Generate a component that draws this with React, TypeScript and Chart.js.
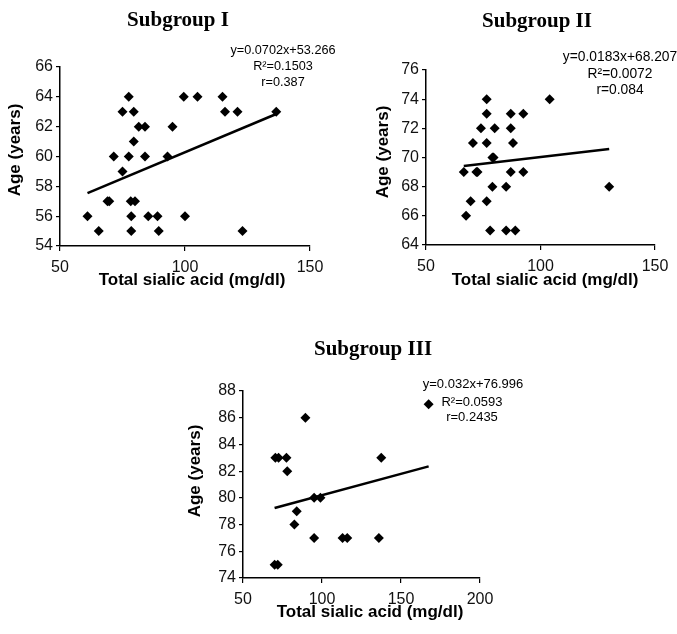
import React, { useEffect, useRef } from 'react';
import { Chart, registerables } from 'chart.js';

Chart.register(...registerables);

// ---------- data ----------
const sialicI = [61, 65.5, 69, 69.7, 71.5, 75, 75, 77.5, 77.5, 78.3, 78.5, 78.5, 79.5, 79.5, 80, 81.5, 84, 84, 85.3, 89, 89.5, 93, 95, 99.5, 100, 105, 115, 116, 121, 123, 136.5];
const ageI = [56, 55, 57, 57, 60, 63, 59, 64, 60, 57, 56, 55, 63, 61, 57, 62, 62, 60, 56, 56, 55, 60, 62, 64, 56, 64, 64, 63, 63, 55, 63];

const sialicII = [66.5, 67.5, 69.5, 70.5, 72, 72.5, 74, 76.5, 76.5, 76.5, 76.5, 78, 79, 79, 79.5, 80, 85, 85, 87, 87, 87, 88, 89, 92.5, 92.5, 104, 130];
const ageII = [69, 66, 67, 71, 69, 69, 72, 74, 73, 71, 67, 65, 68, 70, 70, 72, 68, 65, 73, 72, 69, 71, 65, 73, 69, 74, 68];

const sialicIII = [70, 72, 70.5, 72.5, 77.5, 78, 82.5, 84, 89.5, 95, 95, 99, 113, 116, 136, 137.5, 167.5];
const ageIII = [75, 75, 83, 83, 83, 82, 78, 79, 86, 80, 77, 80, 77, 77, 77, 83, 87];

const slopes = [0.0702, 0.0183, 0.032];
const intercepts = [53.266, 68.207, 76.996];

const titles = ['Subgroup I', 'Subgroup II', 'Subgroup III'];
const equationsI = ['y=0.0702x+53.266', 'R²=0.1503', 'r=0.387'];
const equationsII = ['y=0.0183x+68.207', 'R²=0.0072', 'r=0.084'];
const equationsIII = ['y=0.032x+76.996', 'R²=0.0593', 'r=0.2435'];

const xTicksI = [50, 100, 150];
const yTicksI = [54, 56, 58, 60, 62, 64, 66];
const xTicksII = [50, 100, 150];
const yTicksII = [64, 66, 68, 70, 72, 74, 76];
const xTicksIII = [50, 100, 150, 200];
const yTicksIII = [74, 76, 78, 80, 82, 84, 86, 88];

const xAxisTitle = 'Total sialic acid (mg/dl)';
const yAxisTitle = 'Age (years)';

// ---------- layout (page pixels) ----------
type Layout = {
  box: { left: number; top: number; w: number; h: number };
  area: { L: number; R: number; T: number; B: number };
  title: { x: number; y: number };
  eq: { xs: number[]; ys: number[]; size: number };
  xTitle: { x: number; y: number };
  yTitle: { x: number; y: number };
};

const layouts: Layout[] = [
  {
    box: { left: 0, top: 0, w: 340, h: 300 },
    area: { L: 60, R: 310, T: 67, B: 246 },
    title: { x: 178, y: 26 },
    eq: { xs: [283, 283, 283], ys: [50, 66, 82], size: 12.7 },
    xTitle: { x: 192, y: 285 },
    yTitle: { x: 15, y: 150 },
  },
  {
    box: { left: 340, top: 0, w: 337, h: 300 },
    area: { L: 426, R: 655, T: 70, B: 245 },
    title: { x: 537, y: 27 },
    eq: { xs: [620, 620, 620], ys: [57, 74, 90], size: 13.8 },
    xTitle: { x: 545, y: 285 },
    yTitle: { x: 383, y: 152 },
  },
  {
    box: { left: 170, top: 310, w: 380, h: 324 },
    area: { L: 243, R: 480, T: 391, B: 578 },
    title: { x: 373, y: 355 },
    eq: { xs: [473, 472, 472], ys: [384, 402, 417], size: 13 },
    xTitle: { x: 370, y: 617 },
    yTitle: { x: 195, y: 471 },
  },
];

const SANS = '"Liberation Sans", Arial, sans-serif';
const SERIF = '"Liberation Serif", "Times New Roman", serif';

type PanelProps = {
  xs: number[];
  ys: number[];
  slope: number;
  intercept: number;
  title: string;
  eqLines: string[];
  xTicks: number[];
  yTicks: number[];
  layout: Layout;
};

function Panel({ xs, ys, slope, intercept, title, eqLines, xTicks, yTicks, layout }: PanelProps) {
  const ref = useRef<HTMLCanvasElement | null>(null);

  useEffect(() => {
    if (!ref.current) return;
    const { box, area } = layout;
    const points = xs.map((x, i) => ({ x, y: ys[i] }));
    const xMin = Math.min(...xs);
    const xMax = Math.max(...xs);
    const trend = [
      { x: xMin, y: slope * xMin + intercept },
      { x: xMax, y: slope * xMax + intercept },
    ];

    const textPlugin = {
      id: 'panelText',
      afterDraw(chart: any) {
        const ctx = chart.ctx as CanvasRenderingContext2D;
        const ox = box.left;
        const oy = box.top;
        ctx.save();
        ctx.fillStyle = '#000';
        // title
        ctx.font = `bold 21px ${SERIF}`;
        ctx.textAlign = 'center';
        ctx.textBaseline = 'alphabetic';
        ctx.fillText(title, layout.title.x - ox, layout.title.y - oy);
        // equation
        ctx.font = `${layout.eq.size}px ${SANS}`;
        ctx.textBaseline = 'middle';
        eqLines.forEach((line, i) => {
          ctx.fillText(line, layout.eq.xs[i] - ox, layout.eq.ys[i] - oy);
        });
        // x title
        ctx.font = `bold 17px ${SANS}`;
        ctx.textBaseline = 'alphabetic';
        ctx.fillText(xAxisTitle, layout.xTitle.x - ox, layout.xTitle.y - oy);
        // y title
        ctx.translate(layout.yTitle.x - ox, layout.yTitle.y - oy);
        ctx.rotate(-Math.PI / 2);
        ctx.textBaseline = 'middle';
        ctx.fillText(yAxisTitle, 0, 0);
        ctx.restore();
      },
    };

    const chart = new Chart(ref.current, {
      type: 'scatter',
      data: {
        datasets: [
          {
            label: 'points',
            data: points,
            pointStyle: 'rectRot',
            pointRadius: 5,
            pointBackgroundColor: '#000',
            pointBorderColor: '#000',
            pointBorderWidth: 0,
            showLine: false,
            clip: false as any,
          },
          {
            label: 'trend',
            data: trend,
            showLine: true,
            borderColor: '#000',
            borderWidth: 2.5,
            pointRadius: 0,
            fill: false,
            clip: false as any,
          },
        ],
      },
      plugins: [textPlugin],
      options: {
        animation: false,
        responsive: false,
        maintainAspectRatio: false,
        devicePixelRatio: 1,
        layout: {
          padding: {
            left: 0,
            top: area.T - box.top,
            right: box.left + box.w - area.R,
            bottom: 0,
          },
        },
        plugins: {
          legend: { display: false },
          tooltip: { enabled: false },
          title: { display: false },
        },
        scales: {
          x: {
            type: 'linear',
            min: xTicks[0],
            max: xTicks[xTicks.length - 1],
            afterBuildTicks: (scale: any) => {
              scale.ticks = xTicks.map((v) => ({ value: v }));
            },
            afterFit: (scale: any) => {
              scale.height = box.top + box.h - area.B;
            },
            grid: {
              drawOnChartArea: false,
              drawTicks: true,
              tickLength: 5,
              color: '#000',
              lineWidth: 1.2,
            },
            border: { display: true, color: '#000', width: 1.5 },
            ticks: {
              color: '#111',
              font: { family: SANS, size: 16 },
              padding: 7,
              maxRotation: 0,
            },
          },
          y: {
            type: 'linear',
            min: yTicks[0],
            max: yTicks[yTicks.length - 1],
            afterBuildTicks: (scale: any) => {
              scale.ticks = yTicks.map((v) => ({ value: v }));
            },
            afterFit: (scale: any) => {
              scale.width = area.L - box.left;
            },
            grid: {
              drawOnChartArea: false,
              drawTicks: true,
              tickLength: 4,
              color: '#000',
              lineWidth: 1.2,
            },
            border: { display: true, color: '#000', width: 1.5 },
            ticks: {
              color: '#111',
              font: { family: SANS, size: 16 },
              padding: 3,
            },
          },
        },
      } as any,
    });
    return () => chart.destroy();
  }, [xs, ys, slope, intercept, title, eqLines, xTicks, yTicks, layout]);

  return (
    <div
      style={{
        position: 'absolute',
        left: layout.box.left,
        top: layout.box.top,
        width: layout.box.w,
        height: layout.box.h,
      }}
    >
      <canvas ref={ref} width={layout.box.w} height={layout.box.h} style={{ width: layout.box.w, height: layout.box.h, display: 'block' }} />
    </div>
  );
}

export default function App() {
  return (
    <div style={{ position: 'absolute', left: 0, top: 0, width: 677, height: 634, background: '#fff' }}>
      <Panel xs={sialicI} ys={ageI} slope={slopes[0]} intercept={intercepts[0]} title={titles[0]} eqLines={equationsI} xTicks={xTicksI} yTicks={yTicksI} layout={layouts[0]} />
      <Panel xs={sialicII} ys={ageII} slope={slopes[1]} intercept={intercepts[1]} title={titles[1]} eqLines={equationsII} xTicks={xTicksII} yTicks={yTicksII} layout={layouts[1]} />
      <Panel xs={sialicIII} ys={ageIII} slope={slopes[2]} intercept={intercepts[2]} title={titles[2]} eqLines={equationsIII} xTicks={xTicksIII} yTicks={yTicksIII} layout={layouts[2]} />
    </div>
  );
}
